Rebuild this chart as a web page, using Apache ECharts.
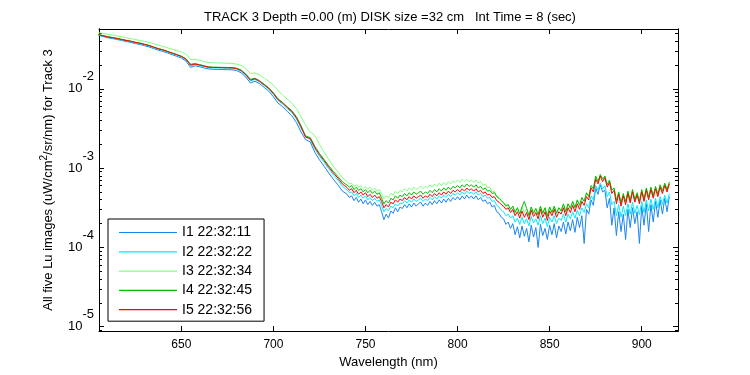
<!DOCTYPE html>
<html>
<head>
<meta charset="utf-8">
<script src="https://cdn.jsdelivr.net/npm/echarts/dist/echarts.min.js"></script>
<style>
  html, body { margin: 0; padding: 0; background: #fff; }
  #chart { width: 750px; height: 375px; }
</style>
</head>
<body>
<div id="chart"></div>
<script>
// wavelength grid (nm): 2.5 nm up to 737.5, 1.25 nm after
const wavelength = [
  605, 607.5, 610, 612.5, 615, 617.5, 620, 622.5, 625, 627.5,
  630, 632.5, 635, 637.5, 640, 642.5, 645, 647.5, 650, 652.5,
  655, 657.5, 660, 662.5, 665, 667.5, 670, 672.5, 675, 677.5,
  680, 682.5, 685, 687.5, 690, 692.5, 695, 697.5, 700, 702.5,
  705, 707.5, 710, 712.5, 715, 717.5, 720, 722.5, 725, 727.5,
  730, 732.5, 735, 737.5,
  740, 741.25, 742.5, 743.75, 745, 746.25, 747.5, 748.75,
  750, 751.25, 752.5, 753.75, 755, 756.25, 757.5, 758.75,
  760, 761.25, 762.5, 763.75, 765, 766.25, 767.5, 768.75,
  770, 771.25, 772.5, 773.75, 775, 776.25, 777.5, 778.75,
  780, 781.25, 782.5, 783.75, 785, 786.25, 787.5, 788.75,
  790, 791.25, 792.5, 793.75, 795, 796.25, 797.5, 798.75,
  800, 801.25, 802.5, 803.75, 805, 806.25, 807.5, 808.75,
  810, 811.25, 812.5, 813.75, 815, 816.25, 817.5, 818.75,
  820, 821.25, 822.5, 823.75, 825, 826.25, 827.5, 828.75,
  830, 831.25, 832.5, 833.75, 835, 836.25, 837.5, 838.75,
  840, 841.25, 842.5, 843.75, 845, 846.25, 847.5, 848.75,
  850, 851.25, 852.5, 853.75, 855, 856.25, 857.5, 858.75,
  860, 861.25, 862.5, 863.75, 865, 866.25, 867.5, 868.75,
  870, 871.25, 872.5, 873.75, 875, 876.25, 877.5, 878.75,
  880, 881.25, 882.5, 883.75, 885, 886.25, 887.5, 888.75,
  890, 891.25, 892.5, 893.75, 895, 896.25, 897.5, 898.75,
  900, 901.25, 902.5, 903.75, 905, 906.25, 907.5, 908.75,
  910, 911.25, 912.5, 913.75, 915
];

// values, stored as log10(Lu)
const i1Log = [
  -1.325,-1.340,-1.356,-1.366,-1.377,-1.390,-1.403,-1.414,-1.430,-1.440,
  -1.456,-1.472,-1.492,-1.513,-1.528,-1.548,-1.569,-1.590,-1.612,-1.648,
  -1.730,-1.710,-1.722,-1.738,-1.750,-1.754,-1.755,-1.757,-1.759,-1.760,
  -1.770,-1.798,-1.852,-1.925,-1.905,-1.935,-1.982,-2.030,-2.100,-2.180,
  -2.225,-2.285,-2.340,-2.425,-2.545,-2.640,-2.670,-2.800,-2.895,-2.975,
  -3.060,-3.140,-3.210,-3.290,
  -3.33,-3.37,-3.35,-3.41,-3.37,-3.43,-3.39,-3.45,
  -3.40,-3.46,-3.42,-3.47,-3.43,-3.48,-3.46,-3.55,
  -3.65,-3.58,-3.63,-3.54,-3.57,-3.50,-3.55,-3.49,
  -3.51,-3.46,-3.50,-3.45,-3.49,-3.44,-3.48,-3.45,
  -3.43,-3.48,-3.44,-3.47,-3.42,-3.46,-3.41,-3.45,
  -3.40,-3.44,-3.39,-3.43,-3.38,-3.42,-3.37,-3.40,
  -3.36,-3.40,-3.35,-3.39,-3.34,-3.38,-3.35,-3.39,
  -3.35,-3.40,-3.37,-3.42,-3.40,-3.45,-3.43,-3.49,
  -3.47,-3.55,-3.57,-3.62,-3.64,-3.71,-3.68,-3.76,
  -3.70,-3.84,-3.74,-3.88,-3.73,-3.86,-3.76,-3.93,
  -3.72,-3.87,-3.75,-4.00,-3.71,-3.85,-3.76,-3.90,
  -3.72,-3.84,-3.70,-3.88,-3.73,-3.80,-3.68,-3.83,
  -3.68,-3.79,-3.65,-3.81,-3.62,-3.75,-3.60,-3.95,
  -3.52,-3.58,-3.40,-3.47,-3.25,-3.33,-3.21,-3.30,
  -3.28,-3.50,-3.38,-3.72,-3.50,-3.85,-3.55,-3.80,
  -3.58,-3.90,-3.52,-3.75,-3.50,-3.70,-3.55,-3.95,
  -3.48,-3.72,-3.45,-3.80,-3.46,-3.68,-3.42,-3.62,
  -3.40,-3.58,-3.38,-3.55,-3.36
];
const i2Log = [
  -1.320,-1.333,-1.348,-1.358,-1.368,-1.381,-1.393,-1.404,-1.418,-1.429,
  -1.444,-1.459,-1.479,-1.499,-1.514,-1.534,-1.555,-1.575,-1.597,-1.631,
  -1.708,-1.694,-1.706,-1.721,-1.734,-1.737,-1.737,-1.739,-1.741,-1.742,
  -1.752,-1.778,-1.830,-1.900,-1.882,-1.913,-1.958,-2.004,-2.070,-2.146,
  -2.192,-2.248,-2.298,-2.380,-2.496,-2.605,-2.640,-2.756,-2.848,-2.925,
  -3.005,-3.082,-3.150,-3.228,
  -3.275,-3.31,-3.30,-3.35,-3.32,-3.37,-3.34,-3.38,
  -3.35,-3.40,-3.37,-3.41,-3.38,-3.42,-3.40,-3.47,
  -3.55,-3.51,-3.54,-3.48,-3.50,-3.45,-3.48,-3.44,
  -3.45,-3.41,-3.44,-3.40,-3.43,-3.39,-3.42,-3.40,
  -3.38,-3.42,-3.39,-3.41,-3.37,-3.40,-3.36,-3.39,
  -3.35,-3.38,-3.34,-3.37,-3.33,-3.36,-3.32,-3.34,
  -3.31,-3.34,-3.30,-3.33,-3.29,-3.32,-3.30,-3.33,
  -3.30,-3.34,-3.32,-3.36,-3.34,-3.38,-3.37,-3.42,
  -3.41,-3.47,-3.49,-3.53,-3.55,-3.60,-3.58,-3.63,
  -3.60,-3.68,-3.63,-3.71,-3.62,-3.70,-3.64,-3.73,
  -3.61,-3.69,-3.64,-3.72,-3.60,-3.70,-3.63,-3.74,
  -3.62,-3.68,-3.60,-3.70,-3.63,-3.66,-3.58,-3.68,
  -3.58,-3.64,-3.55,-3.63,-3.53,-3.60,-3.50,-3.56,
  -3.45,-3.50,-3.35,-3.40,-3.22,-3.28,-3.19,-3.26,
  -3.22,-3.36,-3.30,-3.46,-3.42,-3.60,-3.46,-3.62,
  -3.48,-3.60,-3.45,-3.58,-3.43,-3.57,-3.47,-3.59,
  -3.42,-3.56,-3.40,-3.54,-3.39,-3.52,-3.38,-3.50,
  -3.36,-3.46,-3.34,-3.44,-3.32
];
const i3Log = [
  -1.293,-1.300,-1.312,-1.322,-1.332,-1.343,-1.355,-1.366,-1.378,-1.390,
  -1.402,-1.415,-1.432,-1.450,-1.465,-1.483,-1.500,-1.518,-1.535,-1.560,
  -1.630,-1.628,-1.640,-1.655,-1.668,-1.672,-1.674,-1.676,-1.678,-1.680,
  -1.688,-1.705,-1.745,-1.805,-1.800,-1.825,-1.865,-1.905,-1.955,-2.020,
  -2.080,-2.130,-2.180,-2.250,-2.350,-2.460,-2.545,-2.590,-2.700,-2.800,
  -2.890,-2.975,-3.045,-3.120,
  -3.175,-3.20,-3.19,-3.23,-3.21,-3.24,-3.22,-3.26,
  -3.23,-3.27,-3.24,-3.28,-3.25,-3.29,-3.27,-3.33,
  -3.39,-3.35,-3.37,-3.32,-3.34,-3.29,-3.32,-3.28,
  -3.30,-3.26,-3.29,-3.25,-3.28,-3.24,-3.27,-3.25,
  -3.23,-3.26,-3.23,-3.25,-3.21,-3.24,-3.20,-3.23,
  -3.19,-3.22,-3.18,-3.21,-3.17,-3.20,-3.16,-3.18,
  -3.15,-3.18,-3.14,-3.17,-3.14,-3.17,-3.15,-3.18,
  -3.15,-3.19,-3.17,-3.22,-3.20,-3.25,-3.24,-3.30,
  -3.29,-3.35,-3.37,-3.41,-3.43,-3.47,-3.46,-3.52,
  -3.48,-3.55,-3.50,-3.57,-3.49,-3.56,-3.51,-3.59,
  -3.49,-3.56,-3.51,-3.58,-3.48,-3.56,-3.50,-3.60,
  -3.49,-3.55,-3.48,-3.56,-3.50,-3.53,-3.46,-3.54,
  -3.45,-3.50,-3.42,-3.49,-3.41,-3.46,-3.38,-3.42,
  -3.32,-3.35,-3.23,-3.25,-3.11,-3.16,-3.09,-3.13,
  -3.11,-3.20,-3.16,-3.27,-3.26,-3.40,-3.31,-3.43,
  -3.33,-3.42,-3.30,-3.40,-3.28,-3.39,-3.32,-3.41,
  -3.28,-3.38,-3.26,-3.36,-3.25,-3.34,-3.24,-3.32,
  -3.22,-3.28,-3.20,-3.26,-3.17
];
const i4Log = [
  -1.315,-1.328,-1.342,-1.352,-1.362,-1.375,-1.387,-1.398,-1.412,-1.422,
  -1.437,-1.452,-1.472,-1.492,-1.507,-1.527,-1.547,-1.567,-1.588,-1.620,
  -1.690,-1.682,-1.695,-1.710,-1.724,-1.727,-1.728,-1.730,-1.731,-1.732,
  -1.740,-1.764,-1.812,-1.880,-1.866,-1.898,-1.942,-1.988,-2.050,-2.125,
  -2.172,-2.225,-2.275,-2.352,-2.465,-2.595,-2.615,-2.725,-2.815,-2.890,
  -2.968,-3.040,-3.105,-3.175,
  -3.215,-3.24,-3.22,-3.27,-3.24,-3.28,-3.26,-3.30,
  -3.27,-3.31,-3.28,-3.32,-3.29,-3.33,-3.31,-3.38,
  -3.45,-3.41,-3.44,-3.38,-3.40,-3.35,-3.38,-3.34,
  -3.36,-3.32,-3.35,-3.31,-3.34,-3.30,-3.33,-3.31,
  -3.29,-3.33,-3.30,-3.32,-3.28,-3.31,-3.27,-3.30,
  -3.26,-3.29,-3.25,-3.28,-3.24,-3.27,-3.23,-3.25,
  -3.22,-3.25,-3.21,-3.24,-3.20,-3.23,-3.21,-3.24,
  -3.21,-3.25,-3.23,-3.27,-3.25,-3.29,-3.28,-3.32,
  -3.31,-3.36,-3.38,-3.41,-3.44,-3.48,-3.46,-3.52,
  -3.48,-3.56,-3.50,-3.58,-3.49,-3.42,-3.51,-3.60,
  -3.49,-3.57,-3.51,-3.59,-3.48,-3.57,-3.50,-3.61,
  -3.49,-3.56,-3.48,-3.57,-3.50,-3.54,-3.45,-3.55,
  -3.45,-3.51,-3.42,-3.50,-3.40,-3.47,-3.37,-3.42,
  -3.31,-3.36,-3.22,-3.26,-3.10,-3.17,-3.08,-3.14,
  -3.10,-3.21,-3.15,-3.28,-3.25,-3.41,-3.30,-3.44,
  -3.32,-3.43,-3.29,-3.41,-3.27,-3.40,-3.31,-3.42,
  -3.27,-3.39,-3.25,-3.37,-3.24,-3.35,-3.23,-3.33,
  -3.21,-3.29,-3.19,-3.27,-3.18
];
const i5Log = [
  -1.318,-1.330,-1.345,-1.355,-1.365,-1.378,-1.390,-1.400,-1.415,-1.425,
  -1.440,-1.455,-1.475,-1.495,-1.510,-1.530,-1.550,-1.570,-1.592,-1.625,
  -1.700,-1.688,-1.700,-1.715,-1.728,-1.731,-1.731,-1.733,-1.735,-1.735,
  -1.745,-1.770,-1.820,-1.890,-1.874,-1.905,-1.950,-1.995,-2.060,-2.135,
  -2.180,-2.235,-2.285,-2.365,-2.480,-2.610,-2.625,-2.740,-2.830,-2.905,
  -2.985,-3.060,-3.125,-3.200,
  -3.245,-3.28,-3.26,-3.31,-3.28,-3.33,-3.30,-3.34,
  -3.31,-3.36,-3.33,-3.37,-3.34,-3.38,-3.36,-3.42,
  -3.50,-3.46,-3.49,-3.43,-3.45,-3.40,-3.43,-3.39,
  -3.41,-3.37,-3.40,-3.36,-3.39,-3.35,-3.38,-3.36,
  -3.34,-3.38,-3.35,-3.37,-3.33,-3.36,-3.32,-3.35,
  -3.31,-3.34,-3.30,-3.33,-3.29,-3.32,-3.28,-3.30,
  -3.27,-3.30,-3.26,-3.29,-3.25,-3.28,-3.26,-3.29,
  -3.26,-3.30,-3.28,-3.32,-3.30,-3.34,-3.33,-3.37,
  -3.36,-3.41,-3.43,-3.46,-3.48,-3.52,-3.50,-3.56,
  -3.52,-3.60,-3.55,-3.63,-3.54,-3.62,-3.56,-3.65,
  -3.53,-3.61,-3.56,-3.64,-3.52,-3.62,-3.55,-3.66,
  -3.54,-3.60,-3.52,-3.62,-3.55,-3.58,-3.50,-3.60,
  -3.50,-3.56,-3.47,-3.55,-3.45,-3.52,-3.42,-3.47,
  -3.36,-3.40,-3.25,-3.30,-3.14,-3.20,-3.10,-3.17,
  -3.12,-3.24,-3.18,-3.32,-3.28,-3.45,-3.33,-3.48,
  -3.35,-3.46,-3.32,-3.44,-3.30,-3.43,-3.34,-3.45,
  -3.30,-3.42,-3.28,-3.40,-3.27,-3.38,-3.26,-3.36,
  -3.24,-3.32,-3.22,-3.30,-3.20
];

const seriesNames = ['I1 22:32:11', 'I2 22:32:22', 'I3 22:32:34', 'I4 22:32:45', 'I5 22:32:56'];
const seriesLogs = [i1Log, i2Log, i3Log, i4Log, i5Log];
const colors = ['#1a84f2', '#00eaff', '#80ff80', '#00bf00', '#ff0000'];

const xTicks = [650, 700, 750, 800, 850, 900];
const yMajorTicks = [1e-5, 1e-4, 1e-3, 1e-2];
const yMinorTicks = [
  9e-6,
  2e-5, 3e-5, 4e-5, 5e-5, 6e-5, 7e-5, 8e-5, 9e-5,
  2e-4, 3e-4, 4e-4, 5e-4, 6e-4, 7e-4, 8e-4, 9e-4,
  2e-3, 3e-3, 4e-3, 5e-3, 6e-3, 7e-3, 8e-3, 9e-3,
  2e-2, 3e-2, 4e-2, 5e-2
];

const xMin = 605.3, xMax = 919.7;
const yMin = 8.83e-6, yMax = 0.0568;
const font = 'Arial, "Liberation Sans", sans-serif';

function toPairs(logs) {
  return logs.map((v, i) => [wavelength[i], Math.pow(10, v)]);
}

function xAxisOf(pos, labels) {
  return {
    type: 'value', position: pos, min: xMin, max: xMax,
    axisLine: { show: true, onZero: false, lineStyle: { color: '#000', width: 1 } },
    axisTick: { show: true, inside: true, length: 5, customValues: xTicks, lineStyle: { color: '#000' } },
    axisLabel: { show: labels, customValues: xTicks, margin: 8, color: '#000', fontSize: 12, fontFamily: font },
    splitLine: { show: false },
    name: labels ? 'Wavelength (nm)' : '',
    nameLocation: 'middle', nameGap: 21,
    nameTextStyle: { color: '#000', fontSize: 13, fontFamily: font }
  };
}

function yAxisOf(pos, ticks, len, labels) {
  const ax = {
    type: 'log', logBase: 10, position: pos, min: yMin, max: yMax,
    axisLine: { show: true, onZero: false, lineStyle: { color: '#000', width: 1 } },
    axisTick: { show: true, inside: true, length: len, customValues: ticks, lineStyle: { color: '#000' } },
    axisLabel: { show: false },
    splitLine: { show: false },
    minorTick: { show: false }
  };
  if (labels) {
    ax.axisLabel = {
      show: true, customValues: ticks, margin: 5, color: '#000', fontFamily: font,
      formatter: v => '{b|10}{s|' + Math.round(Math.log10(v)) + '}',
      rich: {
        b: { fontSize: 13, lineHeight: 13, fontFamily: font, color: '#000', padding: [12, 0, 12, 0] },
        s: { fontSize: 13, lineHeight: 13, fontFamily: font, color: '#000', padding: [0, 0, 24, 0] }
      }
    };
    ax.name = 'All five Lu images (uW/cm{s|2}/sr/nm) for Track 3';
    ax.nameLocation = 'middle';
    ax.nameGap = 42;
    ax.nameTextStyle = {
      color: '#000', fontSize: 13, fontFamily: font,
      rich: { s: { fontSize: 10, fontFamily: font, color: '#000', padding: [0, 0, 8, 0] } }
    };
  }
  return ax;
}

const chart = echarts.init(document.getElementById('chart'), null, { renderer: 'canvas' });

chart.setOption({
  backgroundColor: '#fff',
  animation: false,
  title: {
    text: 'TRACK 3 Depth =0.00 (m) DISK size =32 cm   Int Time = 8 (sec)',
    left: 199, top: 6,
    textStyle: { color: '#000', fontSize: 13, fontWeight: 'normal', fontFamily: font }
  },
  grid: { left: 99, right: 72, top: 29, bottom: 44, containLabel: false },
  legend: {
    orient: 'vertical', left: 108, top: 219,
    data: seriesNames,
    icon: 'rect',
    backgroundColor: '#fff', borderColor: '#000', borderWidth: 1,
    padding: [6, 12, 4, 11],
    itemWidth: 58, itemHeight: 1.2, itemGap: 4.3,
    textStyle: { color: '#000', fontSize: 14, lineHeight: 15, fontFamily: font }
  },
  xAxis: [xAxisOf('bottom', true), xAxisOf('top', false)],
  yAxis: [
    yAxisOf('left', yMajorTicks, 5, true),
    yAxisOf('right', yMajorTicks, 5, false),
    yAxisOf('left', yMinorTicks, 3, false),
    yAxisOf('right', yMinorTicks, 3, false)
  ],
  series: seriesLogs.map((logs, k) => ({
    name: seriesNames[k],
    type: 'line',
    xAxisIndex: 0, yAxisIndex: 0,
    data: toPairs(logs),
    symbol: 'none',
    lineStyle: { width: 1, color: colors[k] },
    itemStyle: { color: colors[k] },
    z: 2 + k
  }))
});
</script>
</body>
</html>
